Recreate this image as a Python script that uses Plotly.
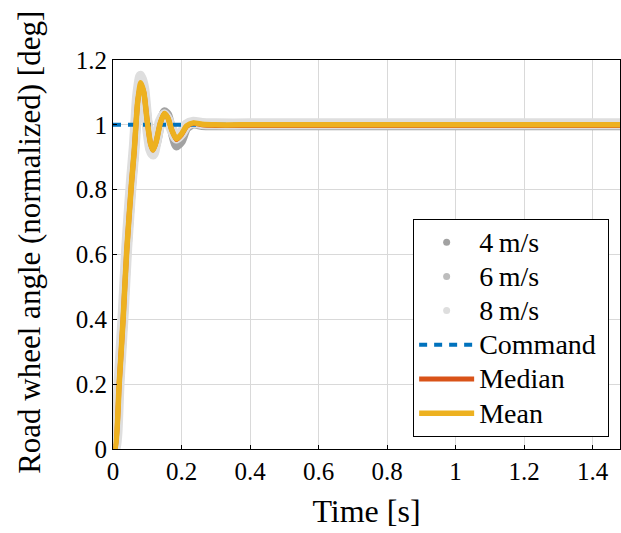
import plotly.graph_objects as go

# ---- data ----
t = [0, 0.006, 0.018, 0.030, 0.040, 0.054, 0.062, 0.072, 0.081, 0.090, 0.100,
     0.110, 0.117, 0.126, 0.138, 0.150, 0.160, 0.172, 0.185, 0.200, 0.215,
     0.235, 0.260, 0.300, 0.400, 0.600, 0.800, 1.000, 1.200, 1.480]

y_4ms = [0, 0.00, 0.19, 0.40, 0.60, 0.81, 0.91, 1.06, 1.115, 1.10, 1.02,
         0.945, 0.92, 0.94, 1.00, 1.04, 1.03, 0.98, 0.935, 0.95, 0.99,
         1.003, 0.998, 0.997, 0.997, 0.997, 0.997, 0.997, 0.997, 0.997]
y_6ms = [0, 0.00, 0.20, 0.41, 0.61, 0.82, 0.92, 1.07, 1.13, 1.105, 1.01,
         0.94, 0.925, 0.95, 1.01, 1.035, 1.02, 0.985, 0.955, 0.97, 0.995,
         1.006, 1.002, 1.000, 1.000, 1.000, 1.000, 1.000, 1.000, 1.000]
y_8ms = [0, 0.00, 0.21, 0.42, 0.62, 0.83, 0.93, 1.09, 1.15, 1.11, 1.00,
         0.925, 0.91, 0.95, 1.01, 1.03, 1.015, 0.985, 0.96, 0.975, 1.00,
         1.008, 1.004, 1.003, 1.003, 1.003, 1.003, 1.003, 1.003, 1.003]
y_median = [0, 0.00, 0.20, 0.41, 0.61, 0.82, 0.92, 1.07, 1.125, 1.10, 1.01,
            0.94, 0.922, 0.948, 1.005, 1.035, 1.022, 0.983, 0.955, 0.97, 0.995,
            1.005, 1.000, 0.998, 0.998, 0.998, 0.998, 0.998, 0.998, 0.998]
y_mean = [0, 0.00, 0.20, 0.41, 0.61, 0.82, 0.92, 1.07, 1.13, 1.10, 1.01,
          0.94, 0.922, 0.948, 1.005, 1.035, 1.022, 0.983, 0.957, 0.972, 0.997,
          1.006, 1.002, 1.000, 1.000, 1.000, 1.000, 1.000, 1.000, 1.000]

t_cmd = [0, 1.48]
y_cmd = [1, 1]

x_ticks = [0, 0.2, 0.4, 0.6, 0.8, 1.0, 1.2, 1.4]
x_ticktext = ["0", "0.2", "0.4", "0.6", "0.8", "1", "1.2", "1.4"]
y_ticks = [0, 0.2, 0.4, 0.6, 0.8, 1.0, 1.2]
y_ticktext = ["0", "0.2", "0.4", "0.6", "0.8", "1", "1.2"]

FONT = "Liberation Serif"


def big(s):
    return '<span style="font-size:28px">' + s + '</span>'


fig = go.Figure()

speeds = [("4\u2009m/s", y_4ms, "#a2a2a2", 9),
          ("6\u2009m/s", y_6ms, "#bdbdbd", 9),
          ("8\u2009m/s", y_8ms, "#dedede", 11)]

for name, ys, col, w in speeds:
    fig.add_trace(go.Scatter(x=t, y=ys, mode="lines", line=dict(color=col, width=w, shape="spline", smoothing=0.6),
                             legendgroup=name, showlegend=False, hoverinfo="skip"))
    fig.add_trace(go.Scatter(x=[None], y=[None], mode="markers", name=big(name), legendgroup=name,
                             marker=dict(color=col, size=7)))

fig.add_trace(go.Scatter(x=t_cmd, y=y_cmd, mode="lines", name=big("Command\u2005"),
                         line=dict(color="#0072BD", width=4, dash="8px,7px")))
fig.add_trace(go.Scatter(x=t, y=y_median, mode="lines", name=big("Median"),
                         line=dict(color="#D95319", width=5, shape="spline", smoothing=0.6)))
fig.add_trace(go.Scatter(x=t, y=y_mean, mode="lines", name=big("Mean"),
                         line=dict(color="#EDB120", width=5.5, shape="spline", smoothing=0.6)))

axis_common = dict(showline=True, linecolor="black", linewidth=1, mirror=True,
                   showgrid=True, gridcolor="#d9d9d9", gridwidth=1, zeroline=False,
                   ticks="inside", ticklen=4, tickcolor="black",
                   tickfont=dict(family=FONT, size=25, color="black"))

fig.update_layout(
    width=621, height=533,
    margin=dict(l=113, r=1, t=60, b=84),
    paper_bgcolor="white", plot_bgcolor="white",
    font=dict(family=FONT, color="black"),
    xaxis=dict(range=[0, 1.48], tickvals=x_ticks, ticktext=x_ticktext,
               title=dict(text="Time [s]", font=dict(family=FONT, size=32), standoff=15),
               **axis_common),
    yaxis=dict(range=[0, 1.2], tickvals=y_ticks, ticktext=y_ticktext, **axis_common),
    legend=dict(x=0.592, y=0.591, xanchor="left", yanchor="top",
                bgcolor="white", bordercolor="black", borderwidth=1,
                font=dict(family=FONT, size=24), tracegroupgap=0, itemwidth=55),
    showlegend=True,
    annotations=[dict(text="Road wheel angle (normalized) [deg]", textangle=-90,
                      xref="paper", yref="paper", x=0, y=0.530, xshift=-83,
                      xanchor="center", yanchor="middle", showarrow=False,
                      font=dict(family=FONT, size=31, color="black"))],
)

fig.write_html("out.html",
               config={"displayModeBar": False},
               post_script="document.body.style.margin='0px';"
                           "document.documentElement.style.overflow='hidden';"
                           "document.body.style.overflow='hidden';")
